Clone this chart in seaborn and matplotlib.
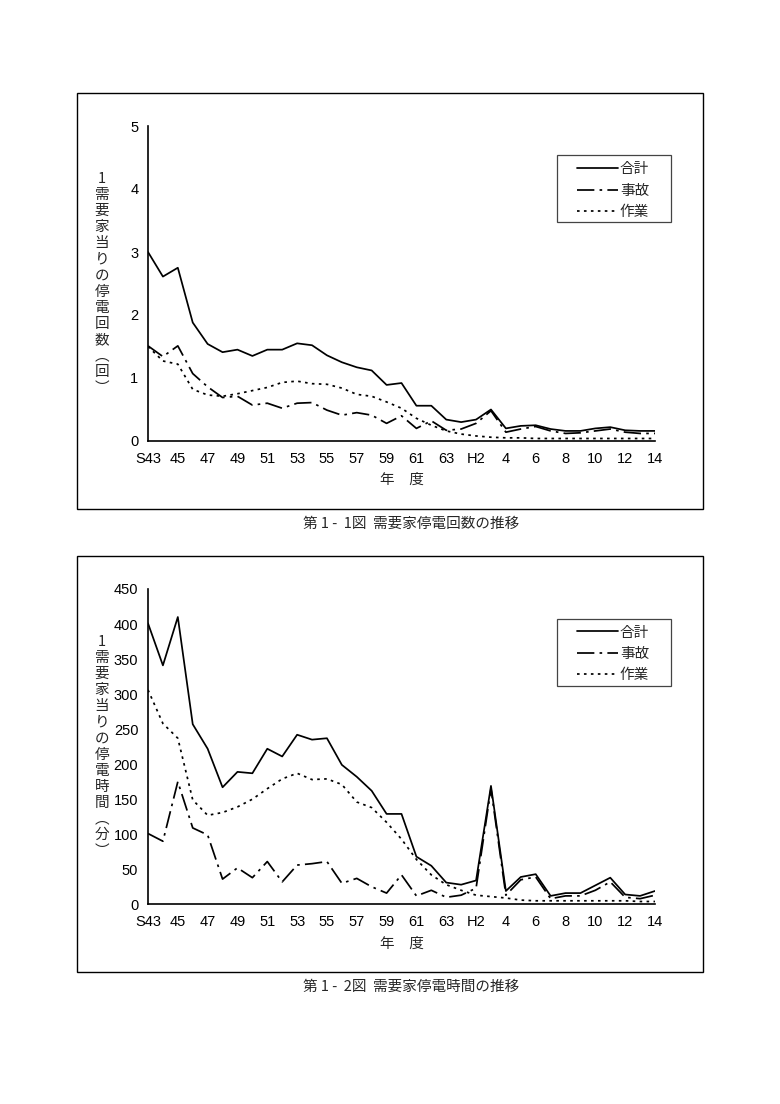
import pandas as pd
import numpy as np
import matplotlib
matplotlib.use('Agg')
import matplotlib.pyplot as plt
from matplotlib.patches import Rectangle
import seaborn as sns

# Datos (S43 .. S63, H1 .. H14)
years = ['S43', '44', '45', '46', '47', '48', '49', '50', '51', '52', '53', '54',
         '55', '56', '57', '58', '59', '60', '61', '62', '63', 'H1', 'H2', '3',
         '4', '5', '6', '7', '8', '9', '10', '11', '12', '13', '14']
tick_labels = ['S43', '', '45', '', '47', '', '49', '', '51', '', '53', '', '55', '',
               '57', '', '59', '', '61', '', '63', '', 'H2', '', '4', '', '6', '',
               '8', '', '10', '', '12', '', '14']

count_total = [3.00, 2.61, 2.75, 1.88, 1.54, 1.41, 1.45, 1.35, 1.45, 1.45, 1.55, 1.52,
               1.36, 1.25, 1.17, 1.12, 0.89, 0.92, 0.56, 0.56, 0.34, 0.30, 0.34, 0.50,
               0.20, 0.24, 0.25, 0.19, 0.16, 0.16, 0.20, 0.22, 0.17, 0.16, 0.16]
count_accident = [1.51, 1.34, 1.51, 1.07, 0.86, 0.69, 0.71, 0.57, 0.60, 0.52, 0.60, 0.61,
                  0.49, 0.41, 0.45, 0.41, 0.28, 0.40, 0.20, 0.32, 0.17, 0.19, 0.28, 0.48,
                  0.14, 0.19, 0.23, 0.16, 0.12, 0.13, 0.16, 0.19, 0.14, 0.12, 0.12]
count_work = [1.50, 1.27, 1.22, 0.82, 0.73, 0.71, 0.75, 0.80, 0.85, 0.93, 0.95, 0.91,
              0.90, 0.84, 0.74, 0.71, 0.62, 0.52, 0.36, 0.25, 0.16, 0.11, 0.08, 0.06,
              0.05, 0.05, 0.04, 0.04, 0.04, 0.04, 0.04, 0.04, 0.04, 0.04, 0.04]

time_total = [401, 341, 410, 257, 222, 167, 189, 187, 222, 211, 242, 235,
              237, 199, 182, 162, 129, 129, 68, 55, 31, 28, 34, 169,
              19, 39, 43, 12, 16, 16, 27, 38, 14, 12, 19]
time_accident = [101, 90, 175, 109, 99, 36, 52, 38, 61, 32, 56, 58,
                 61, 30, 37, 25, 16, 42, 12, 20, 10, 13, 23, 165,
                 13, 35, 39, 8, 12, 12, 20, 32, 10, 8, 13]
time_work = [306, 258, 237, 149, 127, 131, 139, 150, 165, 179, 187, 178,
             179, 171, 146, 138, 117, 93, 64, 42, 28, 20, 13, 11,
             9, 6, 5, 5, 5, 5, 5, 5, 5, 4, 4]

series_names = ['合計', '事故', '作業']

sns.set_style('white')
plt.rcParams['font.family'] = ['Liberation Sans', 'Noto Sans CJK JP', 'DejaVu Sans']
plt.rcParams['axes.unicode_minus'] = False

fig = plt.figure(figsize=(7.8, 11.04), dpi=100)
W, H = 780, 1104
FS = 10.5
CJK = ['Noto Sans CJK JP', 'DejaVu Sans']
AX_LEFT, AX_RIGHT = 148, 655
AX_H = 315.3


def fx(px):
    return px / W


def fy(py):
    return 1 - py / H


def make_df(total, accident, work):
    rows = []
    for name, vals in zip(series_names, [total, accident, work]):
        for i, v in enumerate(vals):
            rows.append({'idx': i, 'year': years[i], 'value': v, 'serie': name})
    return pd.DataFrame(rows)


dashes = {'合計': '', '事故': (10, 3, 1.5, 3), '作業': (1.5, 2.5)}


def draw_panel(ax, df, ymax, ystep, ylabel):
    sns.lineplot(data=df, x='idx', y='value', style='serie', dashes=dashes,
                 color='black', linewidth=1.25, ax=ax, legend=True)
    ax.set_xlim(0, len(years) - 1)
    ax.set_ylim(0, ymax)
    ax.set_xticks(range(len(years)))
    ax.set_xticklabels(tick_labels)
    ax.set_yticks(np.arange(0, ymax + ystep / 2, ystep))
    ax.tick_params(axis='both', direction='in', length=4, width=1, colors='black',
                   labelsize=FS)
    ax.tick_params(axis='x', pad=8)
    ax.tick_params(axis='y', pad=7)
    for s in ['top', 'right']:
        ax.spines[s].set_visible(False)
    for s in ['left', 'bottom']:
        ax.spines[s].set_color('black')
        ax.spines[s].set_linewidth(1.2)
    ax.set_xlabel('年　度', fontsize=FS, labelpad=5, family=CJK)
    ax.set_ylabel('')
    ax.text(-0.091, 0.5, ylabel, transform=ax.transAxes, fontsize=FS,
            ha='center', va='center', linespacing=1.19, family=CJK)

    # leyenda sin marco + marco propio (más ancho a los lados)
    width = AX_RIGHT - AX_LEFT
    ax.legend(loc='upper left', bbox_to_anchor=((577 - AX_LEFT) / width, 1 - 36.5 / AX_H),
              frameon=False, handlelength=2.8, handletextpad=0.14,
              labelspacing=0.5, borderpad=0, borderaxespad=0,
              prop={'family': CJK, 'size': FS})
    ax.add_patch(Rectangle(((557 - AX_LEFT) / width, 1 - (29.5 + 67) / AX_H),
                           114 / width, 67 / AX_H, transform=ax.transAxes,
                           fill=False, edgecolor='#444444', linewidth=0.9,
                           clip_on=False))


# Panel 1: número de cortes
ax1 = fig.add_axes([fx(AX_LEFT), fy(441), fx(AX_RIGHT) - fx(AX_LEFT), fy(126) - fy(441)])
df1 = make_df(count_total, count_accident, count_work)
label1 = '\n'.join(['1', '需', '要', '家', '当', 'り', 'の', '停', '電', '回', '数', '︵', '回', '︶'])
draw_panel(ax1, df1, 5, 1, label1)

# Panel 2: tiempo de corte
ax2 = fig.add_axes([fx(AX_LEFT), fy(904.3), fx(AX_RIGHT) - fx(AX_LEFT), fy(589) - fy(904.3)])
df2 = make_df(time_total, time_accident, time_work)
label2 = '\n'.join(['1', '需', '要', '家', '当', 'り', 'の', '停', '電', '時', '間', '︵', '分', '︶'])
draw_panel(ax2, df2, 450, 50, label2)

# Marcos exteriores
for top, bottom in [(93, 508.7), (555.7, 972)]:
    fig.patches.append(Rectangle((fx(76.5), fy(bottom)), fx(702.7) - fx(76.5),
                                 fy(top) - fy(bottom), transform=fig.transFigure,
                                 fill=False, edgecolor='black', linewidth=1.0))

fig.text(fx(411), fy(524), '第 1 -  1図  需要家停電回数の推移', ha='center', va='center',
         fontsize=FS, family=CJK)
fig.text(fx(411), fy(987), '第 1 -  2図  需要家停電時間の推移', ha='center', va='center',
         fontsize=FS, family=CJK)

fig.savefig('out.png', dpi=100, facecolor='white')
